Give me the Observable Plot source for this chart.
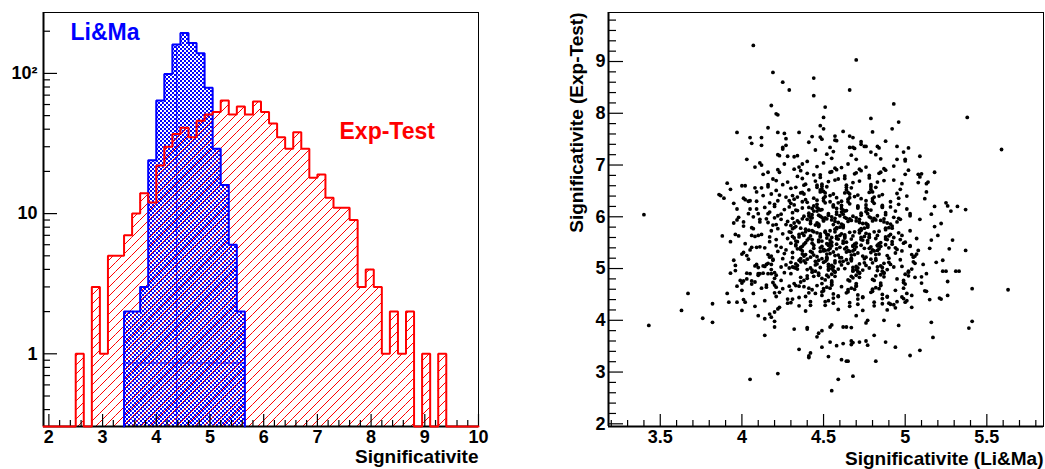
<!DOCTYPE html>
<html><head><meta charset="utf-8">
<script src="https://cdn.jsdelivr.net/npm/d3@7"></script>
<script src="https://cdn.jsdelivr.net/npm/@observablehq/plot@0.6"></script>
<style>
html,body{margin:0;padding:0;background:#fff;}
#row{display:flex;width:1045px;height:469px;}
#row svg{flex:0 0 auto;}
</style></head><body><div id="row"></div>
<script>
// ---- histogram data (bins of width 0.15 starting at 1.9, 54 bins up to 10) ----
const binStart = 1.9, binWidth = 0.15;
const expTestCounts = [0,0,0,0,1,0,3,1,5,5,7,10,14,12,22,30,37,41,35,46,51,53,64,51,58,51,63,53,44,35,29,38,29,18,19,13,11,11,9,3,4,3,1,2,1,2,0,1,0,1,0,0,0,0];
const liMaCounts    = [0,0,0,0,0,0,0,0,0,0,2,2,3,24,64,99,161,194,165,139,79,29,16,6,2,0,0,0,0,0,0,0,0,0,0,0,0,0,0,0,0,0,0,0,0,0,0,0,0,0,0,0,0,0];
const histLabels = ["Li&Ma", "Exp-Test"];
const xTitleLeft = "Significativite";
const xTitleRight = "Significativite (Li&Ma)";
const yTitleRight = "Significativite (Exp-Test)";
const logTickLabels = {1: "1", 10: "10", 100: "10²"};
// pattern seams visible in the blue fill
const seamX = 4.38, seamY = 0.86;

// ---- scatter data: [Li&Ma, Exp-Test] ----
const scatterPoints = [
[4.07,9.31],[4.19,8.79],[4.18,8.15],[4.21,7.99],[4.16,7.72],[3.97,7.63],[4.05,7.53],[4.12,7.53],[4.22,7.63],[4.12,7.38],[4.16,6.86],[4.03,7.11],[4.11,7.04],[4.12,7.0],[4.08,6.96],[4.22,7.2],[3.91,6.65],[3.93,6.53],[3.86,6.43],[3.87,6.41],[3.89,6.36],[4.0,6.6],[4.02,6.6],[4.08,6.56],[4.12,6.56],[4.16,6.62],[4.21,6.7],[4.13,6.41],[3.95,6.26],[4.01,6.36],[4.02,6.33],[3.97,6.15],[4.04,6.3],[4.05,6.31],[4.09,6.3],[4.22,6.31],[4.2,6.2],[4.14,6.18],[4.16,6.06],[4.15,5.96],[4.05,6.15],[4.09,6.15],[4.1,6.06],[4.04,6.06],[3.98,5.99],[3.97,5.94],[3.95,5.88],[4.01,5.9],[4.07,6.0],[4.11,5.9],[4.21,5.85],[4.06,5.79],[4.07,5.77],[3.4,6.04],
[3.88,5.63],[3.93,5.52],[3.96,5.66],[3.98,5.63],[4.06,5.64],[4.08,5.62],[4.1,5.64],[4.12,5.66],[3.95,5.16],[3.96,5.06],[4.0,5.28],[4.01,5.31],[3.96,4.96],[3.93,4.91],[4.03,5.25],[4.05,5.36],[4.06,5.41],[4.09,5.41],[4.11,5.42],[4.14,5.4],[4.08,5.05],[4.09,5.08],[4.1,5.02],[4.13,5.05],[4.14,5.04],[4.15,5.08],[4.16,5.1],[4.17,5.22],[4.18,5.24],[4.19,5.18],[4.03,4.91],[4.05,4.9],[4.1,4.9],[4.11,4.9],[4.13,4.91],[4.16,4.9],[4.18,4.9],[4.2,4.92],[4.03,4.8],[4.01,4.76],[3.99,4.77],[4.0,4.72],[4.06,4.76],[4.06,4.7],[4.08,4.74],[4.1,4.87],[3.97,4.66],[4.0,4.58],[3.91,4.52],[4.15,4.68],[4.15,4.64],[4.2,4.68],[4.21,4.64],[4.2,4.53],[4.01,4.4],[3.92,4.35],[3.97,4.35],[4.02,4.35],[3.82,4.32],[3.67,4.52],[3.63,4.19],[3.76,4.04],[3.82,3.96],[3.43,3.9],[4.08,4.27],[4.0,4.19],[4.1,4.09],[4.14,4.03],[4.18,4.06],[4.2,4.16],[4.22,4.22],[4.14,3.71],[4.2,3.87],[4.22,2.97],[4.05,2.86],
[4.7,9.03],[4.25,8.6],[4.44,8.68],[4.44,8.34],[4.29,8.45],[4.66,8.45],[4.51,8.12],[4.22,7.97],[4.5,7.92],[4.93,8.18],[4.79,7.9],[5.38,7.92],[5.59,7.3],[4.96,7.83],[4.92,7.7],[4.48,7.76],[4.5,7.7],[4.35,7.63],[4.27,7.51],[4.43,7.55],[4.48,7.54],[4.49,7.5],[4.57,7.56],[4.57,7.48],[4.62,7.65],[4.66,7.56],[4.68,7.53],[4.8,7.64],[4.73,7.4],[4.75,7.36],[4.76,7.36],[4.83,7.36],[4.79,7.25],[4.95,7.36],[5.02,7.33],[5.09,7.17],[4.93,6.98],[5.0,7.11],[4.95,7.11],[5.18,6.86],[5.08,6.82],[5.1,6.83],[5.09,6.77],[5.13,6.64],[5.14,6.67],[5.25,6.27],[5.26,6.21],[5.28,6.11],[5.32,6.2],[5.37,6.14],[5.18,6.2],[5.12,6.35],[4.25,7.34],[4.25,7.31],[4.23,7.18],[4.28,7.17],[4.32,7.16],[4.66,7.34],[4.68,7.34],
[5.2,5.64],[5.16,5.55],[5.27,5.38],[5.37,5.35],[5.23,5.16],[5.23,4.95],[5.25,4.95],[5.31,4.95],[5.33,4.95],[5.26,4.75],[5.41,4.61],[5.63,4.59],[5.26,4.48],[5.21,4.43],[5.22,4.41],[5.15,4.4],[5.13,4.56],[5.16,3.96],[5.17,3.67],[5.41,3.98],[5.39,3.85],[5.09,3.42],[5.03,3.32],[4.96,3.9],[4.94,3.48],[4.88,3.58],[4.82,3.21],[4.81,3.71],[4.76,3.6],[4.77,3.52],[4.72,3.58],[4.68,3.57],[4.67,3.6],[4.67,3.53],[4.65,3.21],[4.64,3.21],[4.68,2.92],[4.62,3.55],[4.59,2.86],[4.61,3.24],[4.55,2.64],[4.53,3.3],[4.54,3.58],[4.54,3.87],[4.55,3.91],[4.49,3.48],[4.49,3.8],[4.47,3.75],[4.41,3.31],[4.41,3.28],[4.42,3.37],[4.35,3.44],[4.4,3.86],[4.4,3.83],[4.32,3.83],[4.46,3.68],[4.58,3.51],[4.62,3.87],[4.64,3.87],[4.67,3.86],[4.87,4.0],[4.77,4.0],[4.76,3.95],[4.7,4.09],[5.0,4.35],[4.98,4.45],[4.99,4.42],[4.93,4.3],[4.94,4.24],[4.95,4.36],[4.9,4.33],[4.91,4.31],[5.13,4.9],[5.1,4.84],[5.06,4.83],[5.11,5.08],[5.06,5.1],[5.07,5.28],[5.08,5.35],[5.03,5.43],[4.99,4.77],[4.99,4.73],
[4.02,5.48],[4.13,6.82],[4.07,4.52],[4.11,5.95],[4.04,5.18],[4.14,4.38],[4.09,6.48],[4.01,5.82],[4.12,4.62],[4.06,7.42],
[4.17,5.52],[4.26,6.14],[4.21,4.87],[4.29,5.71],[4.18,6.44],[4.24,5.03],[4.28,4.41],[4.16,5.89],[4.22,6.91],[4.27,5.36],[4.19,4.73],[4.25,6.62],[4.3,5.12],[4.2,5.98],[4.23,4.25],[4.17,6.27],[4.28,5.58],[4.26,7.02],[4.21,5.44],[4.18,4.98],[4.24,6.05],[4.29,4.66],[4.16,5.27],[4.22,5.77],[4.27,6.38],[4.2,3.98],[4.25,5.19],[4.19,6.73],[4.28,5.91],[4.23,4.54],[4.17,5.61],[4.26,4.92],[4.21,6.51],[4.29,6.19],[4.24,5.41],[4.18,5.08],[4.27,7.38],[4.2,4.81],[4.25,5.67],[4.22,6.02],[4.28,4.33],[4.16,6.58],[4.3,5.49],[4.19,5.84],[4.23,6.86],[4.26,5.29],[4.21,4.46],[4.29,6.31],[4.17,4.12],[4.24,5.95],[4.27,5.07],[4.2,6.24],[4.25,4.61],[4.18,5.73],[4.28,6.67],[4.22,5.33],[4.26,7.61],[4.19,5.16],[4.23,6.42],[4.29,5.01],[4.21,5.56],[4.24,4.77],[4.27,5.85],[4.17,6.09],
[4.33,5.46],[4.41,6.18],[4.36,4.74],[4.44,5.71],[4.31,5.03],[4.39,6.63],[4.34,5.92],[4.42,4.29],[4.37,5.28],[4.4,7.07],[4.35,5.61],[4.43,4.93],[4.32,6.34],[4.38,5.15],[4.45,5.84],[4.3,4.58],[4.41,6.02],[4.36,5.37],[4.44,6.81],[4.33,5.53],[4.39,4.46],[4.31,5.77],[4.42,5.22],[4.37,6.47],[4.34,5.06],[4.43,5.98],[4.4,4.81],[4.32,6.23],[4.38,5.64],[4.45,7.29],[4.36,5.41],[4.44,6.11],[4.33,4.67],[4.41,5.58],[4.3,6.55],[4.39,5.11],[4.35,5.89],[4.42,4.36],[4.37,6.74],[4.31,5.31],[4.43,5.73],[4.34,4.99],[4.4,6.28],[4.38,5.47],[4.32,6.92],[4.45,4.52],[4.36,5.19],[4.41,6.07],[4.33,5.81],[4.44,4.85],[4.37,5.34],[4.31,6.41],[4.42,5.01],[4.35,5.66],[4.39,4.18],[4.43,6.16],[4.34,5.52],[4.4,5.95],[4.3,4.9],[4.38,6.61],[4.44,5.26],[4.32,5.79],[4.36,6.89],[4.41,4.62],[4.33,5.44],[4.39,6.33],[4.45,5.07],[4.37,5.68],[4.31,4.41],[4.43,6.04],[4.35,5.16],[4.42,5.87],[4.38,4.77],[4.3,6.26],[4.4,5.55],[4.34,7.18],[4.44,5.39],[4.36,6.46],[4.32,5.02],[4.41,4.53],[4.39,5.76],[4.33,6.13],[4.43,4.97],[4.37,5.43],[4.31,5.97],[4.45,6.69],[4.35,4.28],[4.42,5.63],[4.38,5.24],[4.34,6.38],[4.4,4.86],[4.32,5.59],[4.44,6.21],[4.36,5.13],[4.41,7.44],[4.3,5.83],[4.38,4.65],[4.43,5.49],[4.33,6.57],[4.37,5.96],[4.42,5.33],[4.35,4.44],[4.31,6.08],[4.39,5.71],[4.45,4.95],[4.34,6.78],[4.4,5.18],[4.37,6.29],[4.43,5.56],[4.32,4.71],[4.38,6.01],[4.44,5.45],[4.33,5.09],[4.41,6.52],[4.36,5.78],[4.3,4.34],[4.42,5.92],[4.35,6.96],[4.39,5.27],[4.31,5.62],[4.43,4.59],[4.37,6.17],[4.34,5.38],[4.4,6.84],[4.32,5.88],[4.45,5.14],[4.36,4.83],[4.41,5.74],[4.38,6.44],[4.33,5.01],[4.39,5.5],[4.44,6.36],[4.31,5.21],[4.35,4.66],[4.42,5.99],[4.37,7.02],[4.3,5.7],[4.4,4.98],[4.34,6.12],[4.43,5.31],
[4.47,5.52],[4.56,6.21],[4.49,4.81],[4.58,5.77],[4.46,5.09],[4.53,6.68],[4.5,5.34],[4.59,4.47],[4.52,5.96],[4.55,7.13],[4.48,5.63],[4.57,4.94],[4.51,6.39],[4.6,5.21],[4.46,5.88],[4.54,4.62],[4.58,6.05],[4.49,5.43],[4.55,6.87],[4.52,5.59],[4.56,4.51],[4.47,5.81],[4.59,5.26],[4.5,6.49],[4.53,5.04],[4.48,6.01],[4.57,4.85],[4.51,6.27],[4.46,5.69],[4.54,7.34],[4.58,5.47],[4.49,6.14],[4.55,4.69],[4.47,5.55],[4.52,6.58],[4.6,5.13],[4.5,5.93],[4.56,4.33],[4.48,6.76],[4.53,5.36],[4.51,5.72],[4.59,4.99],[4.46,6.32],[4.54,5.49],[4.57,6.94],[4.49,4.55],[4.52,5.17],[4.58,6.09],[4.47,5.83],[4.55,4.89],[4.5,5.37],[4.56,6.44],[4.48,5.02],[4.53,5.65],[4.59,4.21],[4.46,6.18],[4.55,5.51],[4.51,5.98],[4.57,4.93],[4.49,6.63],[4.54,5.29],[4.47,5.86],[4.58,6.91],[4.52,4.64],[4.6,5.41],[4.5,6.36],[4.55,5.06],[4.48,5.67],[4.56,4.43],[4.53,6.03],[4.49,5.19],[4.57,5.91],[4.51,4.78],[4.46,6.24],[4.59,5.57],[4.52,7.21],[4.54,5.39],[4.48,6.48],[4.56,5.03],[4.5,4.57],[4.58,5.79],[4.47,6.15],[4.53,4.97],[4.55,5.44],[4.49,5.99],[4.57,6.71],[4.51,4.29],[4.6,5.64],[4.46,5.23],[4.54,6.41],[4.52,4.87],[4.48,5.61],[4.56,6.23],[4.5,5.12],[4.58,7.47],[4.47,5.84],[4.55,4.68],[4.53,5.46],[4.49,6.59],[4.57,5.97],[4.51,5.35],[4.59,4.46],[4.46,6.11],[4.54,5.73],[4.56,4.96],[4.48,6.81],[4.52,5.2],[4.5,6.31],[4.58,5.58],[4.55,4.73],[4.47,6.03],[4.53,5.45],[4.57,5.11],[4.49,6.54],[4.6,5.8],[4.51,4.36],[4.55,5.94],[4.46,6.97],[4.52,5.28],[4.58,5.62],[4.5,4.61],[4.56,6.19],[4.48,5.4],[4.54,6.86],[4.59,5.89],[4.47,5.16],[4.53,4.84],[4.57,5.76],[4.51,6.46],[4.55,5.0],[4.49,5.53],[4.58,6.37],[4.52,5.22],[4.46,4.67],[4.55,6.0],[4.5,7.04],[4.57,5.71],[4.53,4.99],[4.48,6.13],[4.56,5.32],[4.54,5.55],[4.47,4.91],[4.59,6.27],[4.51,5.14],[4.56,5.85],[4.49,4.48],[4.53,6.06],[4.58,5.38],[4.46,6.61],[4.52,5.66],[4.55,4.76],[4.5,5.92],[4.57,5.25],[4.48,6.52],[4.53,5.08],[4.6,6.02],[4.47,4.87],[4.54,6.29],[4.51,5.7],[4.56,7.26],[4.52,5.48],[4.58,6.16],[4.49,4.71],[4.55,5.6],[4.46,6.57],[4.57,5.15],[4.5,5.95],[4.53,4.38],[4.59,6.73],[4.48,5.33],
[4.62,5.49],[4.71,6.19],[4.65,4.78],[4.73,5.74],[4.61,5.07],[4.68,6.66],[4.64,5.32],[4.74,4.45],[4.67,5.93],[4.7,7.11],[4.63,5.62],[4.72,4.92],[4.66,6.37],[4.75,5.19],[4.61,5.86],[4.69,4.6],[4.73,6.03],[4.64,5.41],[4.7,6.85],[4.67,5.57],[4.71,4.49],[4.62,5.79],[4.74,5.24],[4.65,6.47],[4.68,5.02],[4.63,5.99],[4.72,4.83],[4.66,6.25],[4.61,5.67],[4.69,7.32],[4.73,5.45],[4.64,6.12],[4.7,4.67],[4.62,5.53],[4.67,6.56],[4.75,5.11],[4.65,5.91],[4.71,4.31],[4.63,6.74],[4.68,5.34],[4.66,5.7],[4.74,4.97],[4.61,6.3],[4.69,5.47],[4.72,6.92],[4.64,4.53],[4.67,5.15],[4.73,6.07],[4.62,5.81],[4.7,4.87],[4.65,5.35],[4.71,6.42],[4.63,5.0],[4.68,5.63],[4.74,4.19],[4.61,6.16],[4.7,5.49],[4.66,5.96],[4.72,4.91],[4.64,6.61],[4.69,5.27],[4.62,5.84],[4.73,6.89],[4.67,4.62],[4.75,5.39],[4.65,6.34],[4.7,5.04],[4.63,5.65],[4.71,4.41],[4.68,6.01],[4.64,5.17],[4.72,5.89],[4.66,4.76],[4.61,6.22],[4.74,5.55],[4.67,7.19],[4.69,5.37],[4.63,6.46],[4.71,5.01],[4.65,4.55],[4.73,5.77],[4.62,6.13],[4.68,4.95],[4.7,5.42],[4.64,5.97],[4.72,6.69],[4.66,4.27],[4.75,5.62],[4.61,5.21],[4.69,6.39],[4.67,4.85],[4.63,5.59],[4.71,6.21],[4.65,5.1],[4.73,7.45],[4.62,5.82],[4.7,4.66],[4.68,5.44],[4.64,6.57],[4.72,5.95],[4.66,5.33],[4.74,4.44],[4.61,6.09],[4.69,5.71],[4.71,4.94],[4.63,6.79],[4.67,5.18],[4.65,6.29],[4.73,5.56],[4.7,4.71],[4.62,6.05],[4.68,5.43],[4.72,5.09],[4.64,6.52],[4.75,5.78],[4.66,4.34],[4.7,5.92],[4.61,6.95],[4.67,5.26],[4.73,5.6],[4.65,4.59],[4.71,6.17],[4.63,5.38],[4.69,6.83],[4.74,5.87],[4.62,5.14],[4.68,4.82],[4.72,5.74],[4.66,6.44],[4.7,4.98],[4.64,5.51],[4.73,6.35],[4.67,5.2],[4.61,4.65],[4.7,5.98],[4.65,7.02],[4.72,5.69],[4.68,4.97],[4.63,6.11],[4.71,5.3],
[4.77,5.5],[4.86,6.2],[4.8,4.79],[4.88,5.75],[4.76,5.06],[4.83,6.67],[4.79,5.31],[4.89,4.46],[4.82,5.94],[4.85,7.12],[4.78,5.61],[4.87,4.91],[4.81,6.38],[4.9,5.2],[4.76,5.87],[4.84,4.61],[4.88,6.04],[4.79,5.42],[4.85,6.86],[4.82,5.58],[4.86,4.5],[4.77,5.8],[4.89,5.25],[4.8,6.48],[4.83,5.03],[4.78,6.0],[4.87,4.84],[4.81,6.26],[4.76,5.68],[4.84,7.33],[4.88,5.46],[4.79,6.13],[4.85,4.68],[4.77,5.54],[4.82,6.57],[4.9,5.12],[4.8,5.92],[4.86,4.32],[4.78,6.75],[4.83,5.35],[4.81,5.71],[4.89,4.98],[4.76,6.31],[4.84,5.48],[4.87,6.93],[4.79,4.54],[4.82,5.16],[4.88,6.08],[4.77,5.82],[4.85,4.88],[4.8,5.36],[4.86,6.43],[4.78,5.01],[4.83,5.64],[4.89,4.2],[4.76,6.17],[4.85,5.5],[4.81,5.97],[4.87,4.92],[4.79,6.62],[4.84,5.28],[4.77,5.85],[4.88,6.9],[4.82,4.63],[4.9,5.4],[4.8,6.35],[4.85,5.05],[4.78,5.66],[4.86,4.42],[4.83,6.02],[4.79,5.18],[4.87,5.9],[4.81,4.77],[4.76,6.23],[4.89,5.56],[4.82,7.2],[4.84,5.38],[4.78,6.47],[4.86,5.02],[4.8,4.56],[4.88,5.78],[4.77,6.14],[4.83,4.96],[4.85,5.43],[4.79,5.98],[4.87,6.7],[4.81,4.28],[4.9,5.63],[4.76,5.22],[4.84,6.4],[4.82,4.86],[4.78,5.6],[4.86,6.22],[4.8,5.11],[4.88,7.46],[4.77,5.83],[4.85,4.67],[4.83,5.45],[4.79,6.58],[4.87,5.96],[4.81,5.34],[4.89,4.45],[4.76,6.1],[4.84,5.72],[4.86,4.95],[4.78,6.8],[4.82,5.19],[4.8,6.3],[4.88,5.57],[4.85,4.72],[4.77,6.06],[4.83,5.44],[4.87,5.1],[4.79,6.53],[4.9,5.79],[4.81,4.35],[4.85,5.93],[4.76,6.96],[4.82,5.27],[4.88,5.61],[4.8,4.6],[4.86,6.18],[4.78,5.39],[4.84,6.84],[4.89,5.88],
[4.92,5.47],[5.01,6.15],[4.95,4.8],[5.03,5.73],[4.91,5.08],[4.98,6.64],[4.94,5.3],[5.04,4.48],[4.97,5.95],[5.0,7.08],[4.93,5.6],[5.02,4.93],[4.96,6.36],[5.05,5.22],[4.91,5.86],[4.99,4.62],[5.03,6.02],[4.94,5.4],[5.0,6.82],[4.97,5.56],[5.01,4.52],[4.92,5.78],[5.04,5.27],[4.95,6.45],[4.98,5.04],[4.93,5.99],[5.02,4.86],[4.96,6.24],[4.91,5.66],[4.99,7.25],[5.03,5.44],[4.94,6.11],[5.0,4.7],[4.92,5.52],[4.97,6.53],[5.05,5.13],[4.95,5.9],[5.01,4.38],[4.93,6.71],[4.98,5.34],[4.96,5.69],[5.04,4.99],[4.91,6.29],[4.99,5.49],[5.02,6.9],[4.94,4.58],[4.97,5.17],[5.03,6.06],[4.92,5.82],[5.0,4.89],[4.95,5.37],[5.01,6.4],[4.93,5.03],[4.98,5.64],[5.04,4.25],[4.91,6.19],[5.0,5.51],[4.96,5.97],[5.02,4.95],
[5.07,5.58],[5.16,6.05],[5.1,4.72],[5.18,5.81],[5.06,5.24],[5.13,6.48],[5.09,5.95],[5.19,5.12],[5.12,4.57],[5.15,5.39],[5.08,6.66],[5.22,5.87],[5.29,5.55]
];

// ---- layout ----
const H = 469, mTop = 12, mBottom = 43, frameH = H - mTop - mBottom;
const W1 = 522, W2 = 523, frameW = 435;
const yMin = 0.303, yMax = 272;
const font = "font-family:'Liberation Sans',Arial,Helvetica,sans-serif;font-weight:bold;font-size:18px;background:#fff;max-width:none;overflow:visible;";

const bins = (counts) => counts.map((v, i) => ({x1: binStart + i * binWidth, x2: binStart + (i + 1) * binWidth, v}));
function outline(counts, i0, i1) {
  const pts = [{x: binStart + i0 * binWidth, y: yMin}];
  for (let i = i0; i <= i1; i++) {
    const v = Math.max(counts[i], yMin);
    pts.push({x: binStart + i * binWidth, y: v}, {x: binStart + (i + 1) * binWidth, y: v});
  }
  pts.push({x: binStart + (i1 + 1) * binWidth, y: yMin});
  return pts;
}
const blueFirst = liMaCounts.findIndex(v => v > 0);
const blueLast = liMaCounts.length - 1 - [...liMaCounts].reverse().findIndex(v => v > 0);
const seamTop = liMaCounts[Math.floor((seamX - binStart) / binWidth)];

const xMajL = d3.range(2, 10.001, 1);
const xMinL = d3.range(2, 10.001, 0.2).filter(v => Math.abs(v - Math.round(v)) > 1e-6);
const yMajL = [1, 10, 100];
const yMinL = [0.4,0.5,0.6,0.7,0.8,0.9,2,3,4,5,6,7,8,9,20,30,40,50,60,70,80,90,200];

const left = Plot.plot({
  width: W1, height: H,
  marginLeft: 43, marginRight: W1 - 43 - frameW, marginTop: mTop, marginBottom: mBottom,
  style: font,
  x: {domain: [binStart, binStart + liMaCounts.length * binWidth], label: null},
  y: {type: "log", domain: [yMin, yMax], label: null},
  marks: [
    Plot.rect(bins(liMaCounts).filter(d => d.v > 0), {x1: "x1", x2: "x2", y1: () => yMin, y2: "v", fill: "url(#checkBlue)"}),
    Plot.ruleX([seamX], {y1: yMin, y2: seamTop, stroke: "#0000ff", strokeWidth: 1}),
    Plot.ruleY([seamY], {x1: binStart + blueFirst * binWidth, x2: binStart + (blueLast + 1) * binWidth, stroke: "#0000ff", strokeWidth: 1}),
    Plot.rect(bins(expTestCounts).filter(d => d.v > 0), {x1: "x1", x2: "x2", y1: () => yMin, y2: "v", fill: "url(#hatchRed)"}),
    Plot.frame({stroke: "#000", strokeWidth: 1}),
    Plot.ruleX([binStart], {stroke: "#000", strokeWidth: 2}),
    Plot.ruleY([yMin], {stroke: "#000", strokeWidth: 2}),
    Plot.tickX(xMajL, {x: d => d, insetTop: frameH - 12, stroke: "#000", strokeWidth: 1.2}),
    Plot.tickX(xMinL, {x: d => d, insetTop: frameH - 6, stroke: "#000", strokeWidth: 1.2}),
    Plot.tickY(yMajL, {y: d => d, insetRight: frameW - 14, stroke: "#000", strokeWidth: 1.2}),
    Plot.tickY(yMinL, {y: d => d, insetRight: frameW - 7, stroke: "#000", strokeWidth: 1.2}),
    Plot.line(outline(liMaCounts, blueFirst, blueLast), {x: "x", y: "y", stroke: "#0000ff", strokeWidth: 2, strokeLinejoin: "miter"}),
    Plot.line(outline(expTestCounts, 0, expTestCounts.length - 1), {x: "x", y: "y", stroke: "#ff0000", strokeWidth: 2, strokeLinejoin: "miter"}),
    Plot.axisX({ticks: xMajL, tickSize: 0, tickPadding: 4, tickFormat: d => String(d), label: null}),
    Plot.axisY({ticks: yMajL, tickSize: 0, tickPadding: 6, tickFormat: d => logTickLabels[d], label: null}),
    Plot.text([xTitleLeft], {text: d => d, frameAnchor: "bottom-right", textAnchor: "end", lineAnchor: "bottom", dy: 36.5, fontSize: 19}),
    Plot.text([histLabels[0]], {text: d => d, frameAnchor: "top-left", textAnchor: "start", lineAnchor: "bottom", dx: 27, dy: 27.5, fontSize: 23, fill: "#0000ff"}),
    Plot.text([histLabels[1]], {text: d => d, frameAnchor: "top-left", textAnchor: "start", lineAnchor: "bottom", dx: 296, dy: 126.5, fontSize: 23, fill: "#ff0000"})
  ]
});

const defs = d3.select(left).insert("defs", ":first-child");
const hp = defs.append("pattern").attr("id", "hatchRed").attr("patternUnits", "userSpaceOnUse").attr("width", 9).attr("height", 9);
hp.append("path").attr("d", "M0,9L9,0M-1,1L1,-1M8,10L10,8").attr("stroke", "#ff0000").attr("stroke-width", 1).attr("fill", "none");
const cp = defs.append("pattern").attr("id", "checkBlue").attr("patternUnits", "userSpaceOnUse").attr("width", 4).attr("height", 4);
cp.append("rect").attr("x", 0).attr("y", 0).attr("width", 2).attr("height", 2).attr("fill", "#0000ff");
cp.append("rect").attr("x", 2).attr("y", 2).attr("width", 2).attr("height", 2).attr("fill", "#0000ff");

// ---- scatter ----
const xDomR = [3.183, 5.847], yDomR = [1.948, 9.947];
const xMajR = [3.5, 4, 4.5, 5, 5.5];
const xMinR = d3.range(3.2, 5.801, 0.1).filter(v => Math.abs(v * 2 - Math.round(v * 2)) > 1e-6);
const yMajR = d3.range(2, 9.001, 1);
const yMinR = d3.range(2, 9.801, 0.2).filter(v => Math.abs(v - Math.round(v)) > 1e-6);

const right = Plot.plot({
  width: W2, height: H,
  marginLeft: W2 - 2 - frameW, marginRight: 2, marginTop: mTop, marginBottom: mBottom,
  style: font,
  x: {domain: xDomR, label: null},
  y: {domain: yDomR, label: null},
  marks: [
    Plot.frame({stroke: "#000", strokeWidth: 1}),
    Plot.ruleX([xDomR[0]], {stroke: "#000", strokeWidth: 2}),
    Plot.ruleY([yDomR[0]], {stroke: "#000", strokeWidth: 2}),
    Plot.tickX(xMajR, {x: d => d, insetTop: frameH - 12, stroke: "#000", strokeWidth: 1.2}),
    Plot.tickX(xMinR, {x: d => d, insetTop: frameH - 6, stroke: "#000", strokeWidth: 1.2}),
    Plot.tickY(yMajR, {y: d => d, insetRight: frameW - 15, stroke: "#000", strokeWidth: 1.2}),
    Plot.tickY(yMinR, {y: d => d, insetRight: frameW - 8, stroke: "#000", strokeWidth: 1.2}),
    Plot.dot(scatterPoints, {x: d => d[0], y: d => d[1], r: 1.9, fill: "#000", stroke: null}),
    Plot.axisX({ticks: xMajR, tickSize: 0, tickPadding: 4, tickFormat: d => String(d), label: null}),
    Plot.axisY({ticks: yMajR, tickSize: 0, tickPadding: 3, tickFormat: d => String(d), label: null}),
    Plot.text([xTitleRight], {text: d => d, frameAnchor: "bottom-right", textAnchor: "end", lineAnchor: "bottom", dy: 38, fontSize: 19}),
    Plot.text([yTitleRight], {text: d => d, frameAnchor: "top-left", textAnchor: "end", lineAnchor: "bottom", rotate: -90, dx: -26, dy: 0, fontSize: 19})
  ]
});

document.getElementById("row").append(left, right);
</script></body></html>
